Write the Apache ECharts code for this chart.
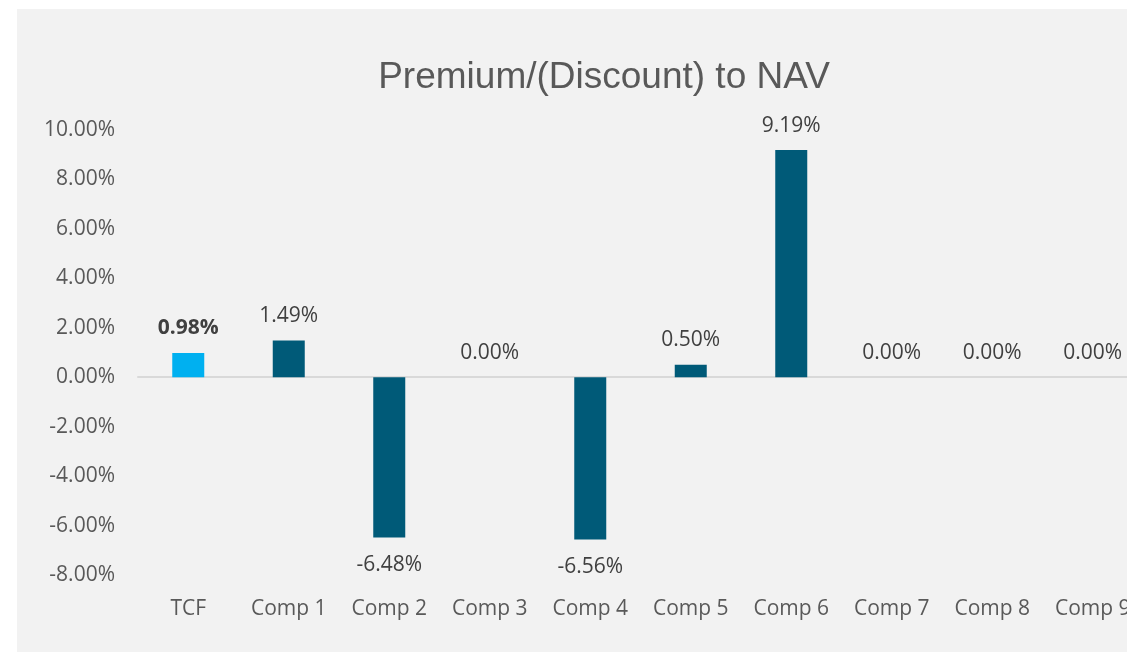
<!DOCTYPE html>
<html>
<head>
<meta charset="utf-8">
<script src="https://cdn.jsdelivr.net/npm/echarts@6/dist/echarts.min.js"></script>
<style>
html,body{margin:0;padding:0;background:#fff;width:1127px;height:652px;overflow:hidden;position:relative;}
#bg{position:absolute;left:17px;top:9px;right:0;bottom:0;background:#f2f2f2;}
#chart{position:absolute;left:0;top:0;width:1170px;height:652px;}
</style>
</head>
<body>
<div id="bg"></div>
<div id="chart"></div>
<script>
const categories = ['TCF','Comp 1','Comp 2','Comp 3','Comp 4','Comp 5','Comp 6','Comp 7','Comp 8','Comp 9'];
const values = [0.98, 1.49, -6.48, 0.00, -6.56, 0.50, 9.19, 0.00, 0.00, 0.00];
const highlightIndex = 0;
const titleText = 'Premium/(Discount) to NAV';

const fontFam = '"Open Sans", sans-serif';
const chart = echarts.init(document.getElementById('chart'), null, {renderer:'canvas'});
const data = values.map((v, i) => ({
  value: v,
  itemStyle: { color: i === highlightIndex ? '#00b0f0' : '#005a78' },
  label: {
    position: v < 0 ? 'bottom' : 'top',
    distance: v < 0 ? 17 : 14,
    fontWeight: i === highlightIndex ? 'bold' : 'normal'
  }
}));
chart.setOption({
  backgroundColor: 'transparent',
  animation: false,
  title: {
    text: titleText, left: 599, top: 54, textAlign: 'center',
    textStyle: { fontFamily: '"Liberation Sans", Arial, sans-serif', fontSize: 37, fontWeight: 'normal', color: '#595959' }
  },
  grid: { left: 138, top: 130, width: 1005, height: 445, containLabel: false },
  xAxis: {
    type: 'category', data: categories,
    axisLine: { onZero: true, lineStyle: { color: '#d9d9d9', width: 2 } },
    axisTick: { show: false },
    axisLabel: { interval: 0, margin: 24, fontFamily: fontFam, fontSize: 21, color: '#595959' },
    splitLine: { show: false }
  },
  yAxis: {
    type: 'value', min: -8, max: 10, interval: 2,
    axisLine: { show: false }, axisTick: { show: false }, splitLine: { show: false },
    axisLabel: { margin: 23, fontFamily: fontFam, fontSize: 21, color: '#595959', formatter: v => v.toFixed(2) + '%' }
  },
  series: [{
    type: 'bar', data: data, barWidth: 32,
    label: { show: true, fontFamily: fontFam, fontSize: 21, color: '#404040', formatter: p => p.value.toFixed(2) + '%' }
  }]
});
</script>
</body>
</html>
